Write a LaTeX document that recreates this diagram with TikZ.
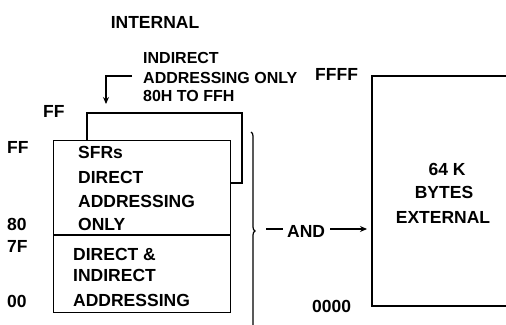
\documentclass[tikz,border=0pt]{standalone}
\usepackage{fontspec}
\setmainfont{Liberation Sans}
\usetikzlibrary{arrows.meta,decorations.pathreplacing}
\begin{document}
\begin{tikzpicture}[x=1pt,y=-1pt,
  lbl/.style={inner sep=0pt,font=\fontsize{17.5}{22}\selectfont\bfseries},
  note/.style={inner sep=0pt,font=\fontsize{16}{19.5}\selectfont\bfseries},
  ln/.style={line width=1.2pt},
  arr/.style={ln,-{Stealth[length=7pt,width=6pt]}}]
\useasboundingbox (0,0) rectangle (506,324);
\clip (0,0) rectangle (506,324);
% title
\node[lbl,anchor=base] (internal) at (155,28) {INTERNAL};
% note
\node[note,anchor=base west] (n1) at (143,63) {INDIRECT};
\node[note,anchor=base west] (n2) at (143,83) {ADDRESSING ONLY};
\node[note,anchor=base west] (n3) at (143,101) {80H TO FFH};
\coordinate (nstart) at (132,76);
\coordinate (ncorner) at (106,76);
\coordinate (nend) at (106,104);
\draw[arr] (nstart) -- (ncorner) -- (nend);
% rear box (80H-FFH indirect)
\draw[ln] (87,140) -- (87,113) -- (242,113) -- (242,183) -- (230,183);
\node[lbl,anchor=base west] (ffup) at (43,117) {FF};
% front box
\node[draw,ln,minimum width=177pt,minimum height=172pt,anchor=north west,inner sep=0pt] (front) at (53,140) {};
\draw[ln] (53,235) -- (230,235);
\node[lbl,anchor=base west] (s1) at (78,158) {SFRs};
\node[lbl,anchor=base west] (s2) at (78,183) {DIRECT};
\node[lbl,anchor=base west] (s3) at (78,207) {ADDRESSING};
\node[lbl,anchor=base west] (s4) at (78,230) {ONLY};
\node[lbl,anchor=base west] (d1) at (73,260) {DIRECT \&};
\node[lbl,anchor=base west] (d2) at (73,281) {INDIRECT};
\node[lbl,anchor=base west] (d3) at (73,306) {ADDRESSING};
% address labels
\node[lbl,anchor=base west] (aFF) at (7,153) {FF};
\node[lbl,anchor=base west] (a80) at (7,230) {80};
\node[lbl,anchor=base west] (a7F) at (7,252) {7F};
\node[lbl,anchor=base west] (a00) at (7,307) {00};
% brace
\coordinate (btop) at (251,132);
\coordinate (bbot) at (251,330);
\draw[ln,decorate,decoration={brace,amplitude=4pt}] (btop) -- (bbot);
% AND
\node[lbl,anchor=base west] (and) at (287,237) {AND};
\coordinate (dashs) at (266,229);
\draw[ln] (dashs) -- ([xshift=-4pt]and.west |- dashs);
\coordinate (arrend) at (367,229);
\draw[arr] ([xshift=5pt]and.east |- arrend) -- (arrend);
% external
\draw[ln] (520,76) -- (372,76) -- (372,306) -- (520,306);
\node[lbl,anchor=base] (e1) at (447,175) {64 K};
\node[lbl,anchor=base] (e2) at (444,198) {BYTES};
\node[lbl,anchor=base] (e3) at (443,223) {EXTERNAL};
\node[lbl,anchor=base west] (ffff) at (315,80) {FFFF};
\node[lbl,anchor=base west] (z0) at (312,312) {0000};
\end{tikzpicture}
\end{document}
